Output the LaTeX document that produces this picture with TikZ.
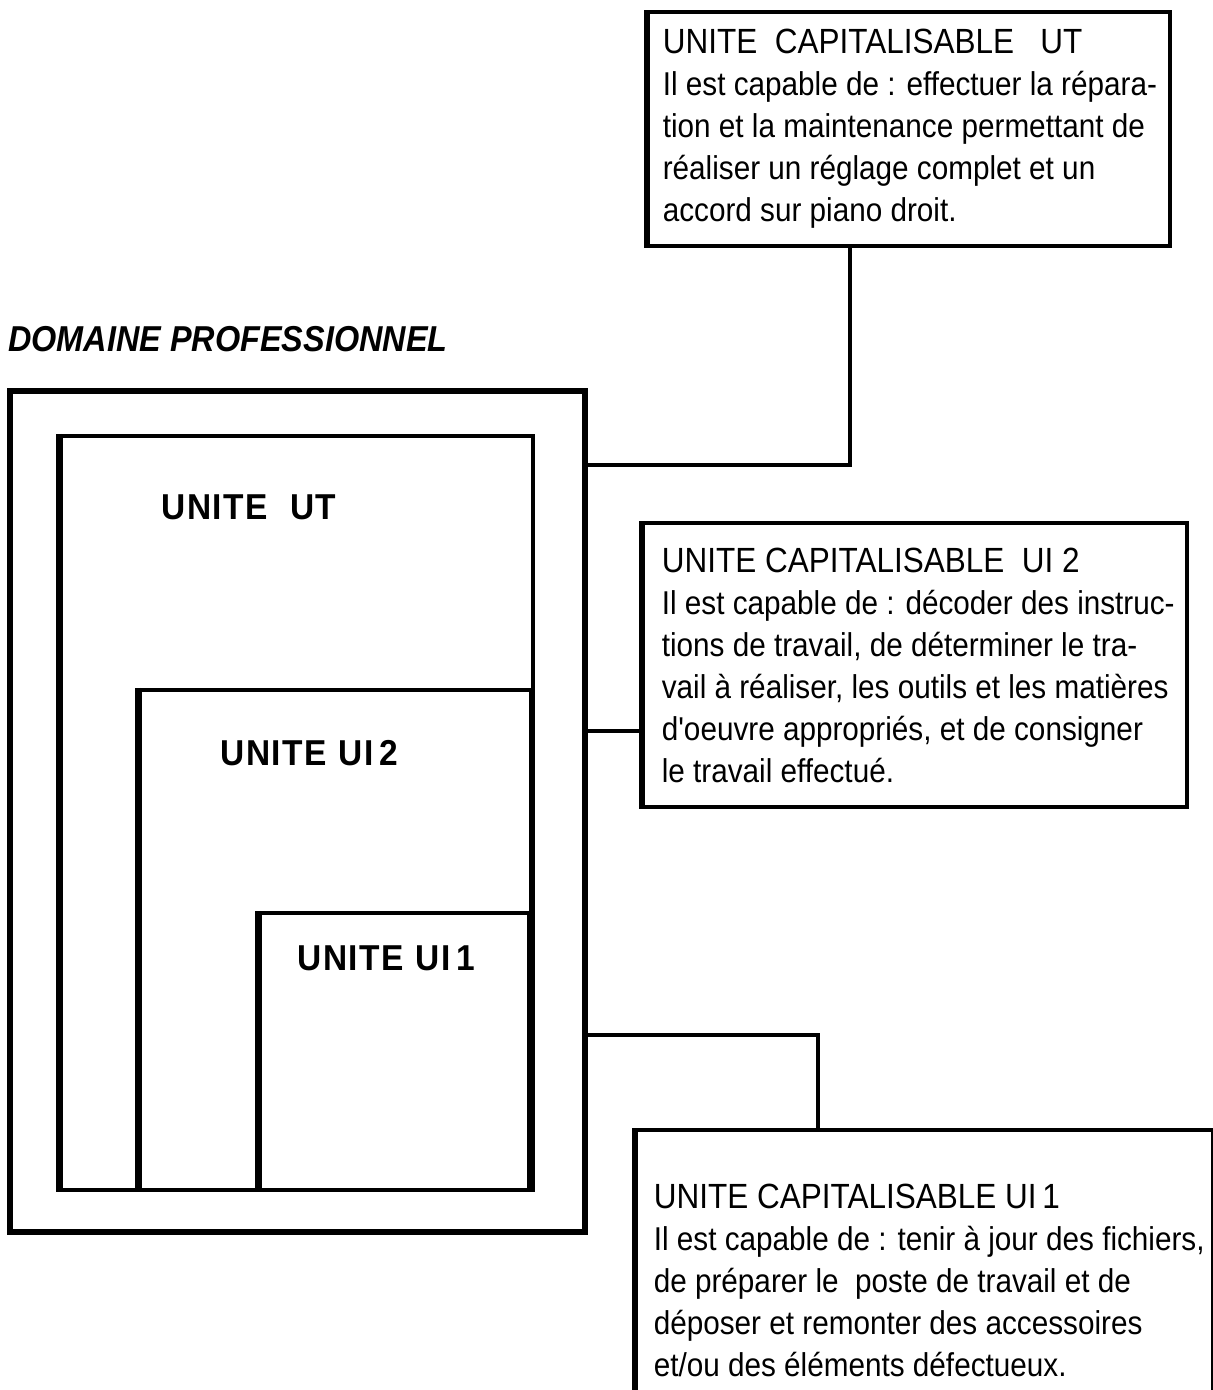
\documentclass[tikz,border=0pt]{standalone}
\usepackage{fontspec}
\setmainfont{Liberation Sans}
\newfontfamily\bodyfont[FakeStretch=0.9]{Liberation Sans}
\newfontfamily\labelfont[FakeStretch=0.93, LetterSpace=4.5]{Liberation Sans}
\newfontfamily\domfont[FakeStretch=0.9]{Liberation Sans}
\usetikzlibrary{positioning, fit}
\newcommand\boxtitle{\fontsize{17.5}{21}\selectfont}

\tikzset{
  unitbox/.style={draw, line width=2.2pt, inner sep=0pt},
  infobox/.style={draw, line width=1.6pt, inner sep=0pt},
  infotext/.style={align=left, anchor=west, inner sep=0pt,
    font=\bodyfont\fontsize{16.5}{21}\selectfont},
  unitlabel/.style={anchor=west, inner sep=0pt,
    font=\labelfont\bfseries\fontsize{18}{20}\selectfont},
  link/.style={line width=1.7pt}
}

\begin{document}
\begin{tikzpicture}[x=0.5pt, y=-0.5pt]
  \useasboundingbox (0,0) rectangle (1212,1390);

  % domaine et unites
  \node[unitlabel, font=\domfont\bfseries\itshape\fontsize{18}{20}\selectfont] (domlab) at (8,339) {DOMAINE PROFESSIONNEL};
  \node[unitbox, line width=2.8pt, fit={(10,391) (585,1232)}] (dom) {};
  \node[unitbox, fit={(61,436) (533,1190)}] (ut) {};
  \node[unitbox, fit={(140,690) (531,1190)}] (ui2) {};
  \node[unitbox, fit={(260,913) (529,1190)}] (ui1) {};
  \foreach \b in {ut, ui2, ui1}
    \draw[line width=3.2pt] (\b.north west) -- (\b.south west);
  \node[unitlabel] (utlab) at (161,507) {UNITE\ \ UT};
  \node[unitlabel] (ui2lab) at (220,753) {UNITE UI\,2};
  \node[unitlabel] (ui1lab) at (297,958) {UNITE UI\,1};

  % unites capitalisables
  \node[infobox, fit={(648,12) (1170,246)}] (utbox) {};
  \node[infotext, right=8pt of utbox.west] (uttext) {{\boxtitle UNITE\ \ CAPITALISABLE\ \ \ UT}\\
    Il est capable de : effectuer la répara-\\
    tion et la maintenance permettant de\\
    réaliser un réglage complet et un\\
    accord sur piano droit.};

  \node[infobox, fit={(643,523) (1187,807)}] (ui2box) {};
  \node[infotext, right=10pt of ui2box.west] (ui2text) {{\boxtitle UNITE CAPITALISABLE\ \ UI\ 2}\\
    Il est capable de : décoder des instruc-\\
    tions de travail, de déterminer le tra-\\
    vail à réaliser, les outils et les matières\\
    d'oeuvre appropriés, et de consigner\\
    le travail effectué.};

  \node[infobox, fit={(636,1130) (1213,1430)}] (ui1box) {};
  \node[infotext, right=9.5pt of ui1box.west] (ui1text) {{\boxtitle UNITE CAPITALISABLE UI\,1}\\
    Il est capable de : tenir à jour des fichiers,\\
    de préparer le\ \ poste de travail et de\\
    déposer et remonter des accessoires\\
    et/ou des éléments défectueux.};

  \foreach \b in {utbox, ui2box, ui1box}
    \draw[line width=2.6pt] (\b.north west) -- (\b.south west);

  % liaisons
  \coordinate (kut) at (850,465);
  \coordinate (kui2) at (643,731);
  \coordinate (kui1) at (818,1035);
  \draw[link] (utbox.south -| kut) -- (kut) -- (dom.east |- kut);
  \draw[link] (dom.east |- kui2) -- (ui2box.west |- kui2);
  \draw[link] (dom.east |- kui1) -- (kui1) -- (kui1 |- ui1box.north);
\end{tikzpicture}
\end{document}
